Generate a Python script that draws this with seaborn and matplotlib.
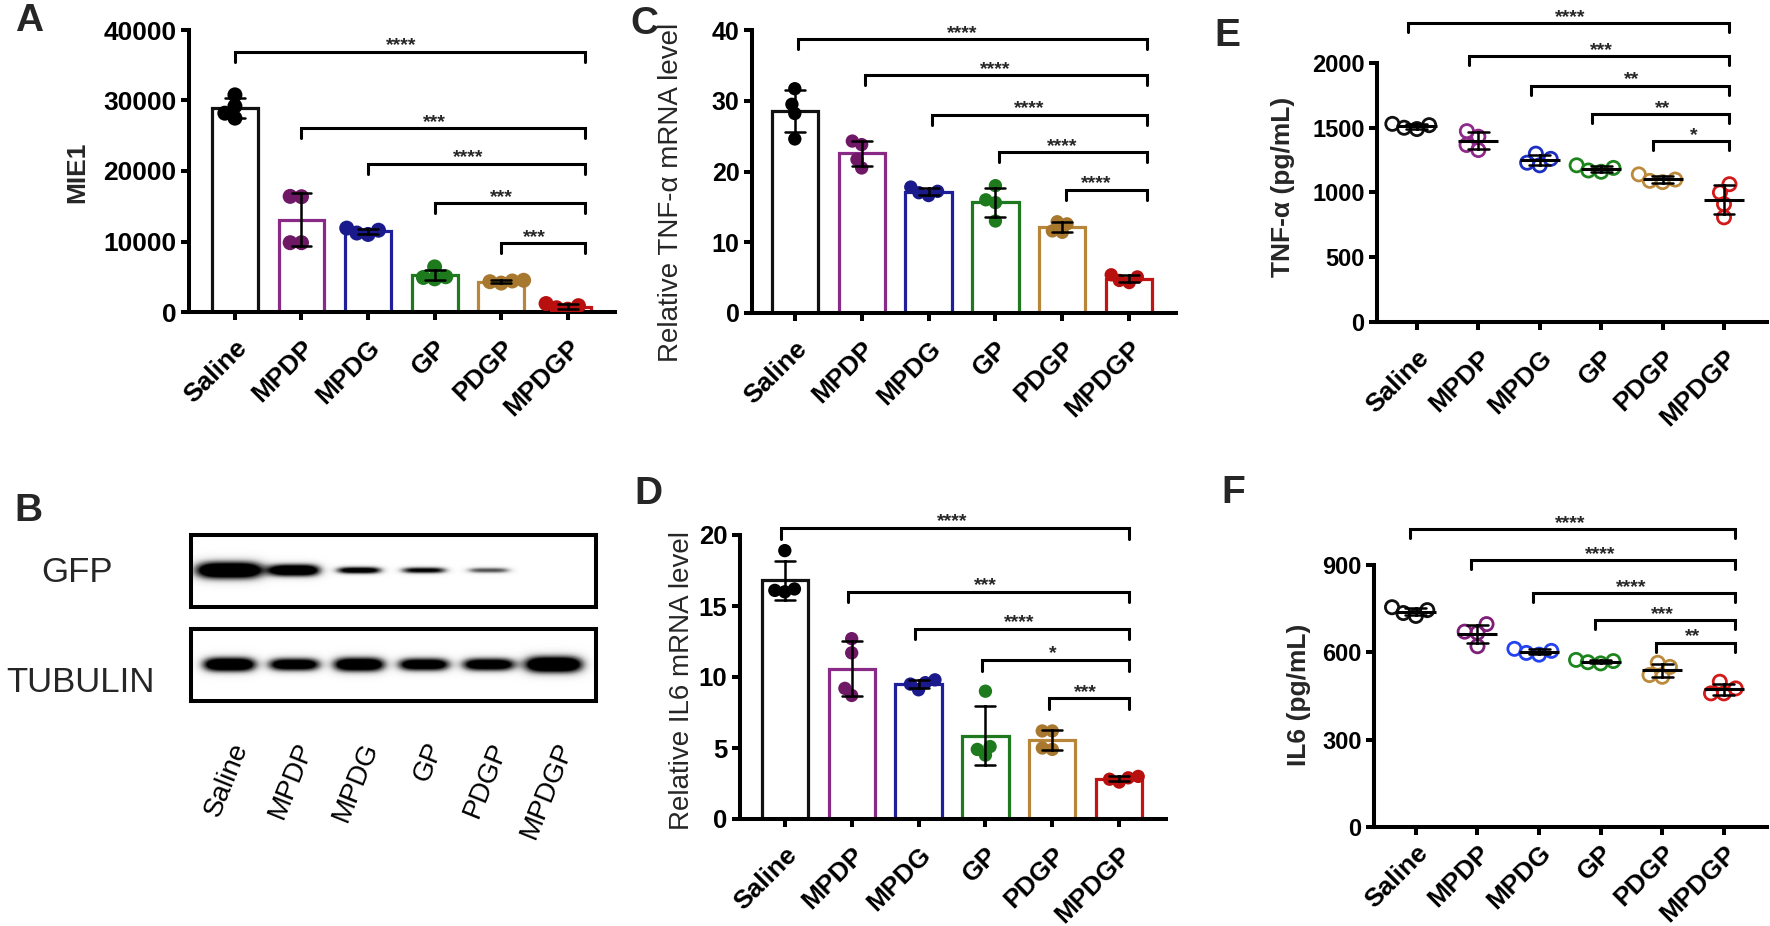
import numpy as np
import pandas as pd
import matplotlib
matplotlib.use("Agg")
import matplotlib.pyplot as plt
import seaborn as sns

# ─── DATA (n = 4 replicates per group) ────────────────────────────────────────
GROUPS = ["Saline", "MPDP", "MPDG", "GP", "PDGP", "MPDGP"]

MIE1 = [[30800, 29200, 28200, 27500],
        [16400, 16350, 9830, 9830],
        [11900, 11600, 11200, 11000],
        [6400, 5000, 4700, 4900],
        [4500, 4300, 4100, 4400],
        [1200, 900, 400, 600]]

TNF_MRNA = [[31.7, 29.5, 28.2, 24.6],
            [24.3, 23.8, 21.7, 20.5],
            [17.8, 17.2, 16.6, 17.0],
            [18.0, 16.0, 15.6, 13.0],
            [12.9, 12.6, 11.6, 11.4],
            [5.4, 5.1, 4.3, 4.6]]

IL6_MRNA = [[18.9, 16.2, 16.0, 16.1],
            [12.7, 11.7, 9.2, 8.7],
            [9.8, 9.6, 9.5, 9.1],
            [9.0, 5.1, 4.5, 4.9],
            [6.2, 6.2, 5.0, 4.9],
            [3.0, 2.9, 2.8, 2.6]]

TNF_PROTEIN = [[1530, 1520, 1500, 1490],
               [1474, 1431, 1367, 1328],
               [1300, 1260, 1230, 1210],
               [1210, 1190, 1170, 1160],
               [1140, 1100, 1090, 1080],
               [1064, 1000, 910, 808]]

IL6_PROTEIN = [[755, 745, 735, 725],
               [697, 671, 667, 621],
               [612, 605, 598, 592],
               [574, 570, 566, 562],
               [564, 550, 522, 516],
               [499, 476, 459, 459]]

# western blot band strength per lane (0 = no band)
GFP_BAND = [1.0, 0.95, 0.75, 0.65, 0.45, 0.0]
TUBULIN_BAND = [0.95, 0.85, 0.92, 0.85, 0.85, 1.0]

# significance brackets, every one compares a group with MPDGP
BRACKET_FROM = [0, 1, 2, 3, 4]
MIE1_SIG_Y = [36900, 26050, 21000, 15400, 9750]
MIE1_SIG = ["****", "***", "****", "***", "***"]
TNF_MRNA_SIG_Y = [38.7, 33.6, 28.0, 22.7, 17.4]
TNF_MRNA_SIG = ["****", "****", "****", "****", "****"]
IL6_MRNA_SIG_Y = [20.5, 16.0, 13.4, 11.2, 8.5]
IL6_MRNA_SIG = ["****", "***", "****", "*", "***"]
TNF_PROTEIN_SIG_Y = [2308, 2051, 1826, 1603, 1397]
TNF_PROTEIN_SIG = ["****", "***", "**", "**", "*"]
IL6_PROTEIN_SIG_Y = [1023, 917, 803, 711, 633]
IL6_PROTEIN_SIG = ["****", "****", "****", "***", "**"]

# ─── STYLE ────────────────────────────────────────────────────────────────────
sns.set_theme(style="ticks")
plt.rcParams.update({
    "font.family": ["Liberation Sans", "DejaVu Sans"],
    "axes.linewidth": 2.9,
    "axes.edgecolor": "black",
    "xtick.major.width": 2.9,
    "ytick.major.width": 2.9,
    "xtick.major.size": 6,
    "ytick.major.size": 6,
    "xtick.color": "black",
    "ytick.color": "black",
})

BAR_COLORS = ["#111111", "#8A2A87", "#1F1F9C", "#1F7A1F", "#B8863A", "#C21414"]
DOT_COLORS = ["#000000", "#6E1866", "#1A1A8C", "#1D7A1D", "#A8782F", "#B80F0F"]
E_COLORS = ["#111111", "#8E2A8A", "#1C2FC0", "#1E851E", "#BC8A3C", "#D21A1A"]
F_COLORS = ["#111111", "#7E1F78", "#2443F0", "#1E851E", "#BC8A3C", "#D21A1A"]

W, H = 1770, 926
fig = plt.figure(figsize=(W / 100, H / 100), dpi=100)
swarms = []   # (collection, final marker size) - swarms are laid out tight, then enlarged


def rect(l, t, r, b):
    return [l / W, 1 - b / H, (r - l) / W, (b - t) / H]


def long_df(values):
    return pd.DataFrame({"group": np.repeat(GROUPS, [len(v) for v in values]),
                         "value": np.concatenate(values)})


def finish_axis(ax, ylim, yticks, ytick_fs, xlim, ylabel, label_xy, label_fs,
                label_weight, xpad=11):
    sns.despine(ax=ax)
    ax.set_ylim(*ylim)
    ax.set_xlim(*xlim)
    ax.set_yticks(yticks)
    ax.set_yticklabels([str(t) for t in yticks], fontsize=ytick_fs, fontweight="bold")
    ax.set_xticks(range(len(GROUPS)))
    ax.set_xticklabels(GROUPS, rotation=45, ha="right", va="top",
                       rotation_mode="anchor", fontsize=19, fontweight="bold")
    ax.tick_params(axis="x", pad=xpad)
    ax.tick_params(axis="y", pad=3)
    ax.set_xlabel("")
    ax.set_ylabel(ylabel, fontsize=label_fs, fontweight=label_weight)
    ax.yaxis.set_label_coords(*label_xy)
    ax.yaxis.label.set_va("center")
    ax.set_facecolor("none")


def add_brackets(ax, heights, stars, lo_shift, hi_end, drop):
    last = len(GROUPS) - 1
    for start, y, s in zip(BRACKET_FROM, heights, stars):
        x0 = start + lo_shift
        ax.plot([x0, x0, hi_end, hi_end], [y - drop, y, y, y - drop],
                color="black", lw=2.2, clip_on=False, solid_joinstyle="miter")
        ax.annotate(s, xy=((start + last) / 2, y), xytext=(0, 1),
                    textcoords="offset points", ha="center", va="baseline",
                    fontsize=14, fontweight="bold", annotation_clip=False)


def add_swarm(ax, df, colors, size, hollow=False):
    n_before = len(ax.collections)
    sns.swarmplot(data=df, x="group", y="value", hue="group", order=GROUPS,
                  hue_order=GROUPS, palette=colors, size=size * 0.72,
                  legend=False, ax=ax, zorder=3)
    for coll in ax.collections[n_before:]:
        if hollow:
            coll.set_edgecolors(coll.get_facecolors())
            coll.set_facecolors("none")
            coll.set_linewidth(2.0)
        swarms.append((coll, size))


def bar_panel(box, values, dot_size):
    ax = fig.add_axes(rect(*box))
    df = long_df(values)
    sns.barplot(data=df, x="group", y="value", hue="group", order=GROUPS,
                hue_order=GROUPS, palette=BAR_COLORS, fill=False, dodge=False,
                width=0.69, linewidth=2.3, errorbar="sd", capsize=0.3,
                err_kws={"color": "black", "linewidth": 1.8}, legend=False, ax=ax)
    for ln in ax.lines:
        ln.set_zorder(4)
    add_swarm(ax, df, DOT_COLORS, dot_size)
    return ax


def dot_panel(box, values, colors):
    ax = fig.add_axes(rect(*box))
    df = long_df(values)
    add_swarm(ax, df, colors, 9.5, hollow=True)
    sns.pointplot(data=df, x="group", y="value", order=GROUPS, errorbar="sd",
                  color="black", marker="_", markersize=29, markeredgewidth=2.2,
                  linestyle="none", capsize=0.34, err_kws={"linewidth": 1.8},
                  ax=ax, zorder=4)
    return ax


def blot(box, levels, widths, thick, y0):
    ax = fig.add_axes(rect(*box))
    xs = np.linspace(-0.59, 5.65, 700)
    ys = np.linspace(0, 1, 160)
    X, Y = np.meshgrid(xs, ys)
    img = np.zeros_like(X)
    for i, (lv, w, t) in enumerate(zip(levels, widths, thick)):
        img += lv * np.exp(-np.abs((X - i) / (w / 2)) ** 4) * np.exp(-((Y - y0) / t) ** 2)
    ax.imshow(np.clip(img * 1.7, 0, 1), extent=(xs[0], xs[-1], 0, 1), origin="lower",
              cmap="Greys", vmin=0, vmax=1, aspect="auto", interpolation="bilinear")
    ax.set_yticks([])
    for sp in ax.spines.values():
        sp.set_visible(True)
        sp.set_linewidth(2.9)
        sp.set_color("black")
    return ax


# ─── A: MIE1 ──────────────────────────────────────────────────────────────────
ax = bar_panel((189, 30, 615, 312), MIE1, 10.8)
finish_axis(ax, (0, 40000), [0, 10000, 20000, 30000, 40000], 19, (-0.69, 5.71),
            "MIE1", (-0.262, 0.496), 19, "bold")
add_brackets(ax, MIE1_SIG_Y, MIE1_SIG, 0.0, 5.26, 1400)

# ─── C: TNF-α mRNA ───────────────────────────────────────────────────────────
ax = bar_panel((752, 30, 1176, 313), TNF_MRNA, 9.6)
finish_axis(ax, (0, 40), [0, 10, 20, 30, 40], 18, (-0.64, 5.7),
            "Relative TNF-α mRNA level", (-0.19, 0.428), 20, "normal")
add_brackets(ax, TNF_MRNA_SIG_Y, TNF_MRNA_SIG, 0.05, 5.26, 1.4)

# ─── D: IL6 mRNA ─────────────────────────────────────────────────────────────
ax = bar_panel((740, 535, 1166, 819), IL6_MRNA, 9.6)
finish_axis(ax, (0, 20), [0, 5, 10, 15, 20], 18.5, (-0.67, 5.7),
            "Relative IL6 mRNA level", (-0.136, 0.489), 20, "normal")
add_brackets(ax, IL6_MRNA_SIG_Y, IL6_MRNA_SIG, -0.05, 5.15, 0.75)

# ─── E: TNF-α protein ────────────────────────────────────────────────────────
ax = dot_panel((1377, 63, 1767, 322), TNF_PROTEIN, E_COLORS)
finish_axis(ax, (0, 2000), [0, 500, 1000, 1500, 2000], 17, (-0.65, 5.7),
            "TNF-α (pg/mL)", (-0.241, 0.521), 19, "bold")
add_brackets(ax, TNF_PROTEIN_SIG_Y, TNF_PROTEIN_SIG, -0.15, 5.08, 70)

# ─── F: IL6 protein ──────────────────────────────────────────────────────────
ax = dot_panel((1374, 565, 1767, 827), IL6_PROTEIN, F_COLORS)
finish_axis(ax, (0, 900), [0, 300, 600, 900], 17, (-0.68, 5.7),
            "IL6 (pg/mL)", (-0.191, 0.504), 19, "bold", xpad=4)
add_brackets(ax, IL6_PROTEIN_SIG_Y, IL6_PROTEIN_SIG, -0.1, 5.18, 31)

# ─── B: western blot ─────────────────────────────────────────────────────────
ax_gfp = blot((191, 535, 596, 607), GFP_BAND, [1.05, 0.8, 0.7, 0.7, 0.66, 0.6],
              [0.12, 0.085, 0.05, 0.045, 0.04, 0.03], 0.51)
ax_gfp.set_xticks([])
ax_tub = blot((191, 629, 596, 701), TUBULIN_BAND, [0.82, 0.8, 0.8, 0.8, 0.82, 0.9],
              [0.1, 0.09, 0.1, 0.09, 0.09, 0.115], 0.5)
ax_tub.set_xticks(range(len(GROUPS)))
ax_tub.set_xticklabels(GROUPS, rotation=68, ha="right", va="top",
                       rotation_mode="anchor", fontsize=20)
ax_tub.tick_params(axis="x", length=0, pad=27)
fig.text(41 / W, 1 - 573 / H, "GFP", fontsize=25, va="center", ha="left")
fig.text(6 / W, 1 - 682 / H, "TUBULIN", fontsize=25, va="center", ha="left")

# ─── panel letters ───────────────────────────────────────────────────────────
for letter, x, y in [("A", 15, 3), ("C", 630, 6), ("E", 1214, 18),
                     ("B", 14, 493), ("D", 634, 476), ("F", 1221, 475)]:
    fig.text(x / W, 1 - y / H, letter, fontsize=28, fontweight="bold",
             va="top", ha="left")

# lay the swarms out with small markers, then freeze them and enlarge the dots
fig.canvas.draw()
for coll, size in swarms:
    coll.__dict__.pop("draw", None)
    coll.set_sizes(np.full(len(coll.get_offsets()), size ** 2))

fig.savefig("out.png", dpi=100, facecolor="white")
